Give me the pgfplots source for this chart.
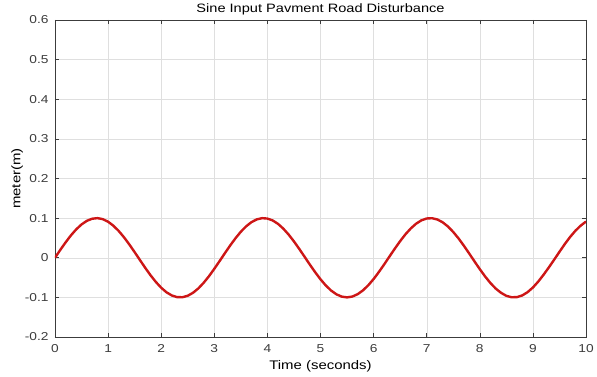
\documentclass[border=0pt]{standalone}
\usepackage{pgfplots}
\pgfplotsset{compat=1.18}
\usepackage{fontspec}
\setmainfont{Liberation Sans}[FakeStretch=1.2]
\definecolor{curve}{RGB}{205,22,22}
\definecolor{tickgray}{RGB}{60,60,60}
\begin{document}
\begin{tikzpicture}[x=1bp,y=1bp]
\begin{axis}[
  at={(0,0)}, anchor=south west,
  scale only axis, width=531bp, height=317bp,
  xmin=0, xmax=10, ymin=-0.2, ymax=0.6,
  xtick={0,1,...,10},
  ytick={-0.2,-0.1,0,0.1,0.2,0.3,0.4,0.5,0.6},
  yticklabel style={/pgf/number format/fixed, /pgf/number format/precision=1, xshift=-3bp},
  xticklabel style={yshift=-4bp},
  /pgf/number format/assume math mode=true,
  tick align=inside, major tick length=4bp,
  tick style={tickgray, line width=0.6pt},
  grid=major, major grid style={gray!25, line width=0.4pt},
  axis line style={tickgray, line width=0.6pt},
  ticklabel style={font=\fontsize{11.5}{12}\selectfont, text=tickgray},
  title={Sine Input Pavment Road Disturbance},
  title style={font=\fontsize{12.2}{14}\selectfont, yshift=-5bp},
  xlabel={Time (seconds)}, ylabel={meter(m)},
  label style={font=\fontsize{12.5}{14}\selectfont},
  xlabel style={yshift=-1bp}, ylabel style={yshift=-5bp},
]
\addplot[curve, line width=2.4bp] coordinates {
(0,0) (0.1,0.0199) (0.2,0.0389) (0.3,0.0565) (0.4,0.0717) (0.5,0.0841)
(0.6,0.0932) (0.7,0.0985) (0.8,0.1000) (0.9,0.0974) (1.0,0.0909)
(1.1,0.0808) (1.2,0.0675) (1.3,0.0516) (1.4,0.0335) (1.5,0.0141)
(1.6,-0.0058) (1.7,-0.0256) (1.8,-0.0443) (1.9,-0.0612) (2.0,-0.0757)
(2.1,-0.0872) (2.2,-0.0952) (2.3,-0.0994) (2.4,-0.0996) (2.5,-0.0959)
(2.6,-0.0883) (2.7,-0.0773) (2.8,-0.0631) (2.9,-0.0465) (3.0,-0.0279)
(3.1,-0.0083) (3.2,0.0117) (3.3,0.0312) (3.4,0.0494) (3.5,0.0657)
(3.6,0.0794) (3.7,0.0899) (3.8,0.0968) (3.9,0.0999) (4.0,0.0989)
(4.1,0.0941) (4.2,0.0855) (4.3,0.0734) (4.4,0.0585) (4.5,0.0412)
(4.6,0.0223) (4.7,0.0025) (4.8,-0.0174) (4.9,-0.0366) (5.0,-0.0544)
(5.1,-0.0700) (5.2,-0.0828) (5.3,-0.0923) (5.4,-0.0981) (5.5,-0.1000)
(5.6,-0.0979) (5.7,-0.0919) (5.8,-0.0823) (5.9,-0.0694) (6.0,-0.0537)
(6.1,-0.0358) (6.2,-0.0166) (6.3,0.0034) (6.4,0.0231) (6.5,0.0420)
(6.6,0.0592) (6.7,0.0740) (6.8,0.0859) (6.9,0.0944) (7.0,0.0991)
(7.1,0.0998) (7.2,0.0966) (7.3,0.0895) (7.4,0.0789) (7.5,0.0650)
(7.6,0.0487) (7.7,0.0303) (7.8,0.0108) (7.9,-0.0092) (8.0,-0.0288)
(8.1,-0.0472) (8.2,-0.0638) (8.3,-0.0778) (8.4,-0.0885) (8.5,-0.0961)
(8.6,-0.0997) (8.7,-0.0993) (8.8,-0.0950) (8.9,-0.0868) (9.0,-0.0751)
(9.1,-0.0602) (9.2,-0.0430) (9.3,-0.0244) (9.4,-0.0049) (9.5,0.0150)
(9.6,0.0344) (9.7,0.0524) (9.8,0.0681) (9.9,0.0811) (10.0,0.0913)
};
\end{axis}
\pgfresetboundingbox
\path[use as bounding box] (-55,-39) rectangle (542,337);
\end{tikzpicture}
\end{document}
